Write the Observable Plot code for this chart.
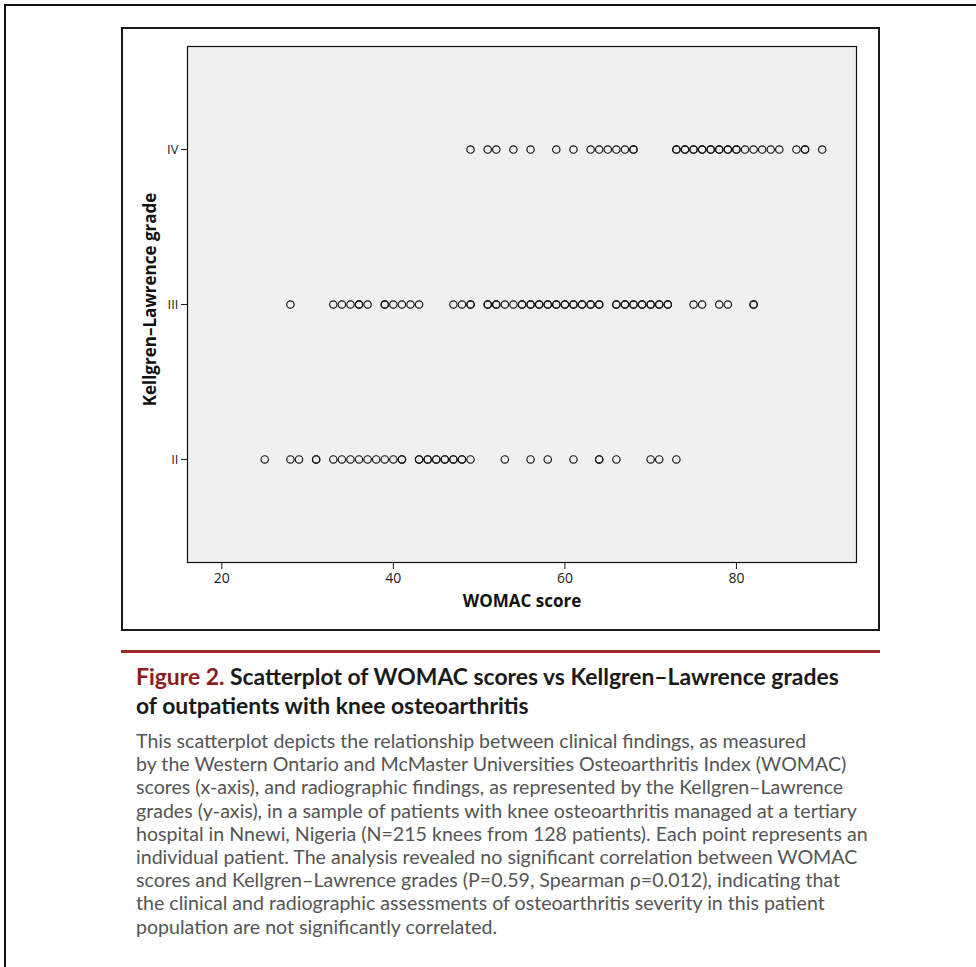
<!DOCTYPE html>
<html>
<head>
<meta charset="utf-8">
<script src="https://cdn.jsdelivr.net/npm/d3@7"></script>
<script src="https://cdn.jsdelivr.net/npm/@observablehq/plot@0.6"></script>
<style>
  html, body { margin: 0; padding: 0; background: #fff; }
  #page { position: relative; width: 976px; height: 967px; overflow: hidden; }
  #outer { position: absolute; left: 4px; top: 4px; width: 1000px; height: 1000px; border: 2px solid #111; box-sizing: border-box; }
  #box { position: absolute; left: 121px; top: 27px; width: 759px; height: 604px; border: 2px solid #1a1a1a; box-sizing: border-box; }
  #chart { position: absolute; left: 0; top: 0; }
  #rule { position: absolute; left: 121px; top: 650px; width: 759px; height: 3px; background: #9c2b27; }
  #title { position: absolute; left: 136px; top: 662px; font-family: Lato, sans-serif; font-weight: 700; font-size: 22.9px; line-height: 29px; color: #1a1a1a; white-space: nowrap; letter-spacing: 0px; }
  #title .fig { color: #8e1c1c; }
  #body { position: absolute; left: 136px; top: 729px; font-family: Lato, sans-serif; font-size: 19.6px; line-height: 23.2px; color: #555; white-space: nowrap; letter-spacing: 0px; }
</style>
</head>
<body>
<div id="page">
  <div id="outer"></div>
  <div id="box"></div>
  <div id="chart"></div>
  <div id="rule"></div>
  <div id="title"><span class="fig">Figure 2.</span> Scatterplot of WOMAC scores vs Kellgren–Lawrence grades<br>of outpatients with knee osteoarthritis</div>
  <div id="body">This scatterplot depicts the relationship between clinical findings, as measured<br>by the Western Ontario and McMaster Universities Osteoarthritis Index (WOMAC)<br>scores (x-axis), and radiographic findings, as represented by the Kellgren–Lawrence<br>grades (y-axis), in a sample of patients with knee osteoarthritis managed at a tertiary<br>hospital in Nnewi, Nigeria (N=215 knees from 128 patients). Each point represents an<br>individual patient. The analysis revealed no significant correlation between WOMAC<br>scores and Kellgren–Lawrence grades (P=0.59, Spearman ρ=0.012), indicating that<br>the clinical and radiographic assessments of osteoarthritis severity in this patient<br>population are not significantly correlated.</div>
</div>
<script>
// WOMAC scores per Kellgren–Lawrence grade (repeated values = overlapping points)
const gradeIV = [49,51,52,54,56,59,61,63,64,65,66,67,68,68,73,73,74,74,75,75,76,76,77,77,78,78,79,79,80,80,81,82,83,84,85,87,88,88,90];
const gradeIII = [28,33,34,35,36,36,37,39,39,40,41,42,43,47,48,49,49,51,51,52,52,53,54,55,55,56,56,57,57,58,58,59,59,60,60,61,61,62,62,63,63,64,64,66,66,67,67,68,68,69,69,70,70,71,71,72,72,75,76,78,79,82,82];
const gradeII = [25,28,29,31,31,33,34,35,36,37,38,39,40,41,41,43,43,44,44,45,45,46,46,47,47,48,48,49,53,56,58,61,64,64,66,70,71,73];

const gradeValues = [2, 3, 4];
const gradeLabels = ["II", "III", "IV"];
const xTicks = [20, 40, 60, 80];
const xLabel = "WOMAC score";
const yLabel = "Kellgren–Lawrence grade";

const points = [
  ...gradeII.map(v => ({score: v, grade: 2})),
  ...gradeIII.map(v => ({score: v, grade: 3})),
  ...gradeIV.map(v => ({score: v, grade: 4}))
];

const chart = Plot.plot({
  width: 976,
  height: 640,
  marginLeft: 187,
  marginRight: 120,
  marginTop: 46,
  marginBottom: 78,
  style: {background: "transparent", fontFamily: "'Open Sans', sans-serif", fontSize: "13px", color: "#1a1a1a"},
  x: {domain: [16, 94]},
  y: {domain: [1.335, 4.665]},
  marks: [
    Plot.frame({fill: "#f0f0f0", stroke: "#111", strokeWidth: 1.2}),
    Plot.axisX({ticks: xTicks, tickSize: 7, tickPadding: 4, label: null, fontSize: 14}),
    Plot.axisY({ticks: gradeValues, tickFormat: d => gradeLabels[gradeValues.indexOf(d)], tickSize: 6, tickPadding: 3, label: null, fontSize: 13}),
    Plot.text([xLabel], {frameAnchor: "bottom", dy: 44, text: d => d, fontWeight: "bold", fontSize: 17, fill: "#111"}),
    Plot.text([yLabel], {frameAnchor: "left", dx: -37, dy: -5, rotate: -90, textAnchor: "middle", lineAnchor: "middle", text: d => d, fontWeight: "bold", fontSize: 17, fill: "#111"}),
    Plot.dot(points, {x: "score", y: "grade", r: 3.7, stroke: "#111", strokeWidth: 1.15, fill: "none"})
  ]
});
document.getElementById("chart").appendChild(chart);
</script>
</body>
</html>
